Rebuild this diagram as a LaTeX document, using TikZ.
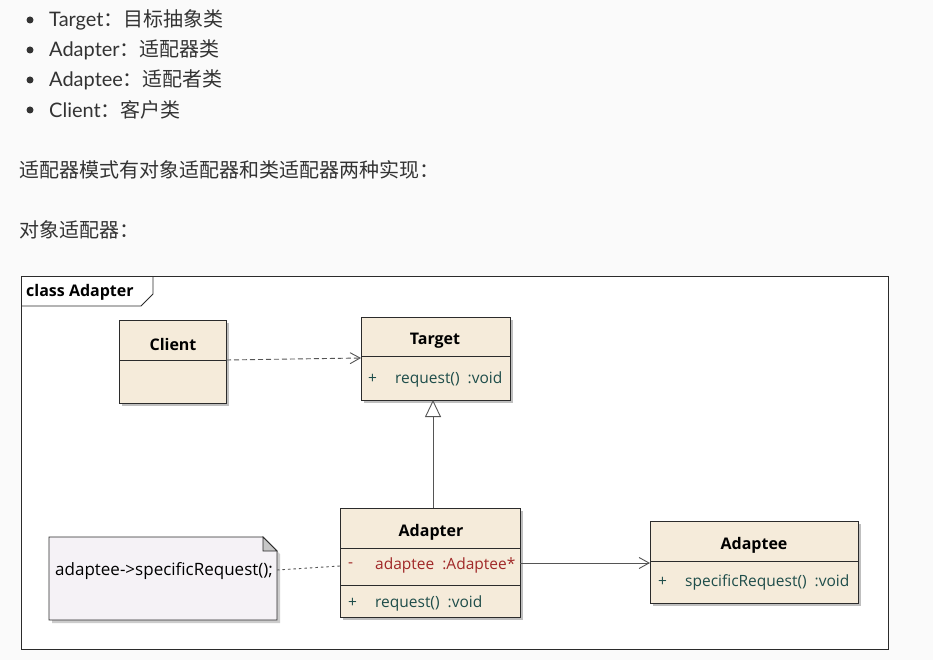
\documentclass[tikz,border=0pt]{standalone}
\usepackage{fontspec}
\setmainfont{Lato}
\newfontfamily\cjk{Noto Sans CJK SC}
\newfontfamily\umlf{Open Sans}
\usetikzlibrary{arrows.meta,shadows}
\definecolor{bodytxt}{HTML}{333333}
\definecolor{boxfill}{HTML}{F5EBDA}
\definecolor{notefill}{HTML}{F5F2F6}
\definecolor{membertxt}{HTML}{1E4D4A}
\definecolor{attrtxt}{HTML}{A02828}
\definecolor{linec}{HTML}{2B2B2B}
\definecolor{conn}{HTML}{555555}
\tikzset{
  bodytext/.style={anchor=west, inner sep=0pt, text=bodytxt, font=\fontsize{20}{22}\selectfont},
  classbox/.style={draw=linec, line width=0.9pt, fill=boxfill, anchor=north west, inner sep=0pt,
    drop shadow={shadow xshift=3pt, shadow yshift=-3pt, fill=black!25, opacity=1}},
  classtitle/.style={inner sep=0pt, font=\umlf\bfseries\fontsize{16}{18}\selectfont, text=black},
  member/.style={anchor=west, inner sep=0pt, font=\umlf\fontsize{15.5}{17}\selectfont, text=membertxt},
  attr/.style={member, text=attrtxt},
  sep/.style={draw=linec, line width=0.9pt},
  conline/.style={draw=conn, line width=0.9pt},
  opentip/.style={-{Straight Barb[length=10pt,width=11pt,line width=0.9pt]}},
}
\begin{document}
\begin{tikzpicture}[x=1pt,y=-1pt]
\useasboundingbox (0,0) rectangle (933,660);
\fill[white!98!black] (0,0) rectangle (933,660);
% bullet list
\foreach \yy in {20,50,80,110}{\fill[bodytxt] (30,\yy) circle (3.5);}
\node[bodytext] (t1) at (49,20) {Target{\cjk ：目标抽象类}};
\node[bodytext] (t2) at (49,50) {Adapter{\cjk ：适配器类}};
\node[bodytext] (t3) at (49,80) {Adaptee{\cjk ：适配者类}};
\node[bodytext] (t4) at (49,110) {Client{\cjk ：客户类}};
\node[bodytext] (p1) at (19,170) {\cjk 适配器模式有对象适配器和类适配器两种实现：};
\node[bodytext] (p2) at (19,230) {\cjk 对象适配器：};
% frame
\draw[linec, line width=0.9pt, fill=white] (21,276) rectangle (888,649);
\draw[linec, line width=0.9pt] (21,306) -- (141,306) -- (153,294) -- (153,276);
\node[anchor=west, inner sep=0pt, font=\umlf\bfseries\fontsize{16}{18}\selectfont] (frl) at (26,292) {class Adapter};
% Client
\node[classbox, minimum width=107pt, minimum height=83pt] (client) at (119,320) {};
\draw[sep] (119,360) -- (226,360);
\node[classtitle] (clientt) at (173,344) {Client};
% Target
\node[classbox, minimum width=149pt, minimum height=83pt] (target) at (361,317) {};
\draw[sep] (361,356) -- (510,356);
\node[classtitle] (targett) at (435,341) {Target};
\node[member] (tp) at (368,379) {+};
\node[member] (tm) at (395,379) {request()\ \ :void};
% Adapter
\node[classbox, minimum width=180pt, minimum height=109pt] (adapter) at (340,508) {};
\draw[sep] (340,548) -- (520,548);
\draw[sep] (340,585) -- (520,585);
\node[classtitle] (adaptert) at (431,532) {Adapter};
\node[attr] (am) at (348,565) {-};
\node[attr] (aa) at (375,565) {adaptee\ \ :Adaptee*};
\node[member] (ap) at (348,603) {+};
\node[member] (ar) at (375,603) {request()\ \ :void};
% Adaptee
\node[classbox, minimum width=208pt, minimum height=82pt] (adaptee) at (650,521) {};
\draw[sep] (650,561) -- (858,561);
\node[classtitle] (adapteet) at (754,545) {Adaptee};
\node[member] (ep) at (658,582) {+};
\node[member] (es) at (685,582) {specificRequest()\ \ :void};
% Note
\coordinate (n1) at (49,537);
\coordinate (n2) at (263,537);
\coordinate (n3) at (277,551);
\coordinate (n4) at (277,620);
\coordinate (n5) at (49,620);
\fill[black!20] (52,540) -- (266,540) -- (280,554) -- (280,623) -- (52,623) -- cycle;
\draw[linec, line width=0.9pt, fill=notefill] (n1) -- (n2) -- (n3) -- (n4) -- (n5) -- cycle;
\draw[linec, line width=0.8pt, fill=black!22] (n2) -- (263,551) -- (n3) -- cycle;
\node[anchor=west, inner sep=0pt, font=\umlf\fontsize{17}{19}\selectfont, text=black] (note) at (55,571) {adaptee->specificRequest();};
% connectors
\coordinate (cl) at (226,360);
\coordinate (tl) at (361,358);
\draw[conline, dashed, dash pattern=on 5pt off 3pt, opentip] (cl) -- (tl);
\coordinate (ga) at (433,508);
\coordinate (gt) at (433,400);
\draw[conline, -{Triangle[open, length=17pt, width=16pt, line width=0.9pt, fill=white]}] (ga) -- (gt);
\coordinate (ar1) at (520,563);
\coordinate (ar2) at (650,563);
\draw[conline, opentip] (ar1) -- (ar2);
\coordinate (nd1) at (277,570);
\coordinate (nd2) at (340,566);
\draw[conline, dash pattern=on 2.5pt off 3pt] (nd1) -- (nd2);
\end{tikzpicture}
\end{document}
